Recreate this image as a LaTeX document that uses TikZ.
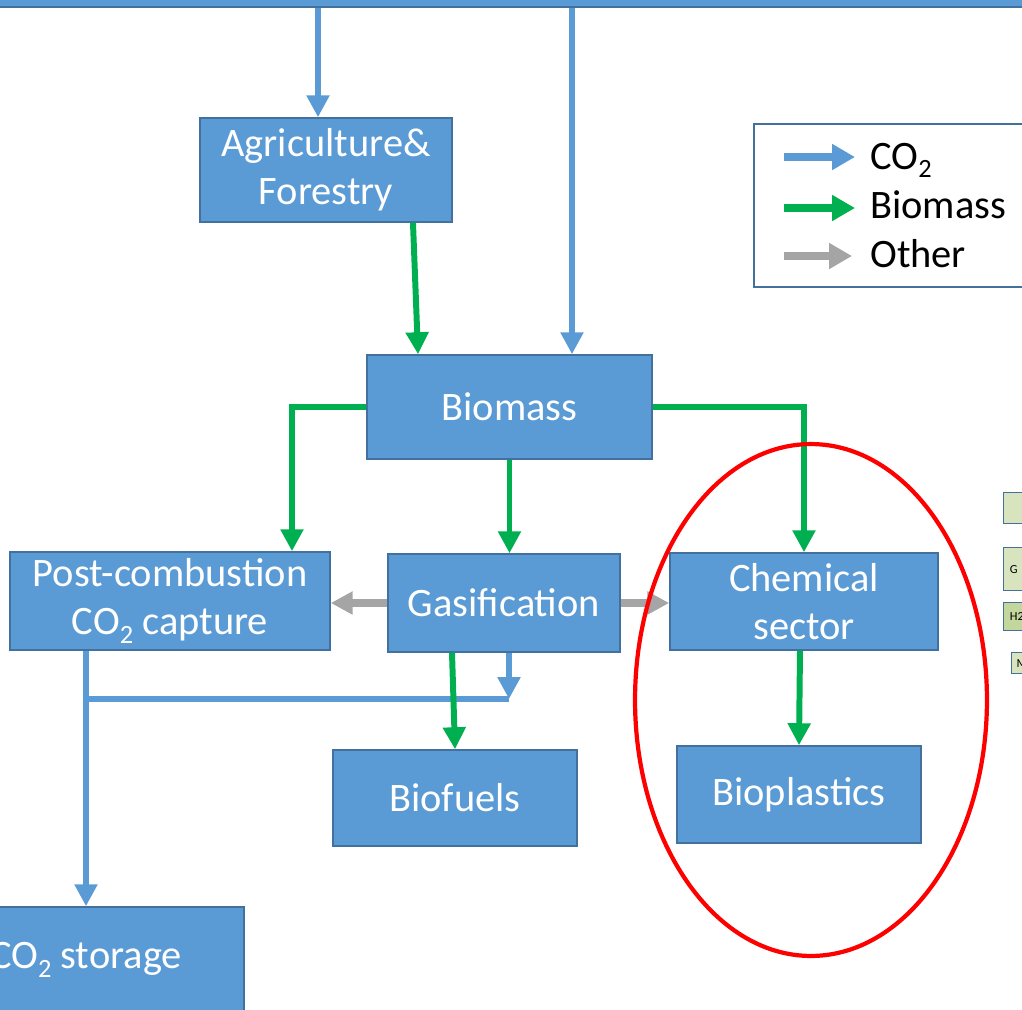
\documentclass[tikz,border=0pt]{standalone}
\usepackage{fontspec}
\setmainfont{Carlito}
\usetikzlibrary{arrows.meta,positioning,shapes.geometric}
\definecolor{boxblue}{HTML}{5B9BD5}
\definecolor{boxline}{HTML}{41719C}
\definecolor{flowgreen}{HTML}{00B050}
\definecolor{flowgray}{HTML}{A5A5A5}
\definecolor{sidegreen}{HTML}{D7E4BD}
\definecolor{sidegreendark}{HTML}{C3D69B}
\newcommand{\subtwo}{\raisebox{-0.22em}{\fontsize{15}{15}\selectfont 2}}
\tikzset{>={Triangle[width=12.5pt,length=12.5pt]}}
\tikzset{flowbox/.style={draw=boxline,fill=boxblue,text=white,line width=0.9pt,
    align=center,inner sep=0pt,font=\fontsize{23}{27.5}\selectfont}}
\tikzset{sidebox/.style={draw=boxline,line width=0.8pt,minimum width=1cm,
    text width=0.8cm,align=left,inner xsep=3.5pt,anchor=north west,
    font=\fontsize{7}{8}\selectfont}}

\begin{document}
\begin{tikzpicture}[x=0.02cm,y=-0.02cm,
        co2/.style={->,boxblue,line width=3.4pt},
        co2line/.style={boxblue,line width=3.4pt},
        bio/.style={->,flowgreen,line width=3.4pt},
        other/.style={->,flowgray,line width=5pt}]
        \useasboundingbox (0,0) rectangle (1022,1009);
        \clip (0,0) rectangle (1022,1009);

        % boxes
        \node[flowbox,minimum width=22cm,minimum height=0.36cm] (atmos) at (511,-2) {};
        \node[flowbox,minimum width=5.04cm,minimum height=2.08cm] (agri) at (326,170) {Agriculture\&\\Forestry};
        \node[flowbox,minimum width=5.70cm,minimum height=2.08cm] (biomass) at (509.5,407) {Biomass};
        \node[flowbox,minimum width=6.40cm,minimum height=1.96cm] (postcomb) at (170,601) {Post-combustion\\CO\subtwo{} capture};
        \node[flowbox,minimum width=4.64cm,minimum height=1.96cm] (gasif) at (504,603) {Gasification};
        \node[flowbox,minimum width=5.36cm,minimum height=1.94cm] (chem) at (804,601.5) {Chemical\\sector};
        \node[flowbox,minimum width=4.88cm,minimum height=1.92cm] (biofuels) at (455,798) {Biofuels};
        \node[flowbox,minimum width=4.88cm,minimum height=1.94cm] (bioplast) at (799,794.5) {Bioplastics};
        \node[flowbox,minimum width=6.32cm,minimum height=2.12cm] (storage) at (86,960) {CO\subtwo{} storage};

        % legend
        \node[draw=boxline,line width=0.9pt,minimum width=6cm,minimum height=3.26cm,anchor=north west] (legend) at (753,123) {};
        \node[anchor=base west,inner sep=0pt,font=\fontsize{23}{27.5}\selectfont] (lgco2) at (870,169) {CO\subtwo};
        \node[anchor=base west,inner sep=0pt,font=\fontsize{23}{27.5}\selectfont] (lgbio) at (870,218) {Biomass};
        \node[anchor=base west,inner sep=0pt,font=\fontsize{23}{27.5}\selectfont] (lgoth) at (870,267) {Other};
        \coordinate (lgco2a) at (784,157);
        \coordinate (lgco2b) at (855,157);
        \coordinate (lgbioa) at (784,208);
        \coordinate (lgbiob) at (855,208);
        \coordinate (lgotha) at (784,256);
        \coordinate (lgothb) at (852,256);
        \draw[co2,line width=4.5pt,-{Triangle[width=14pt,length=13pt]}] (lgco2a) -- (lgco2b);
        \draw[bio,line width=4.5pt,-{Triangle[width=14pt,length=13pt]}] (lgbioa) -- (lgbiob);
        \draw[other,line width=4.5pt,-{Triangle[width=14pt,length=13pt]}] (lgotha) -- (lgothb);

        % side boxes, cut at the edge
        \node[sidebox,fill=sidegreen,minimum height=0.62cm] (side1) at (1003,492) {};
        \node[sidebox,fill=sidegreen,minimum height=0.86cm] (side2) at (1003,547) {G};
        \node[sidebox,fill=sidegreendark,minimum height=0.56cm] (side3) at (1003,602) {H2};
        \node[sidebox,fill=sidegreen,minimum height=0.42cm,inner xsep=2pt] (side4) at (1011,652) {M};

        % flows
        \coordinate (agritop) at ([xshift=-0.16cm]agri.north);
        \coordinate (biotop) at ([xshift=1.25cm]biomass.north);
        \draw[co2] (atmos.south -| agritop) -- (agritop);
        \draw[co2] (atmos.south -| biotop) -- (biotop);
        \draw[bio] ([xshift=1.74cm]agri.south) -- ([xshift=-1.83cm]biomass.north);
        \draw[bio] (biomass.west) -| ([xshift=2.44cm]postcomb.north);
        \draw[bio] (biomass.south) -- (biomass.south |- gasif.north);
        \draw[bio] (biomass.east) -| (chem.north);
        \draw[other] (gasif.west) -- (gasif.west -| postcomb.east);
        \draw[other] (gasif.east) -- (gasif.east -| chem.west);
        \coordinate (gjoin) at (509,699);
        \draw[co2] (gasif.south -| gjoin) -- (gjoin);
        \draw[co2line] (gjoin) -- (gjoin -| storage.north);
        \draw[co2] (storage.north |- postcomb.south) -- (storage.north);
        \draw[bio] ([xshift=-0.06cm]gasif.south -| biofuels.north) -- (biofuels.north);
        \draw[bio] ([xshift=-0.08cm]chem.south) -- (bioplast.north);

        % highlight
        \draw[red,line width=2.4pt] (811,700) ellipse [x radius=3.52cm,y radius=5.12cm];
\end{tikzpicture}
\end{document}
